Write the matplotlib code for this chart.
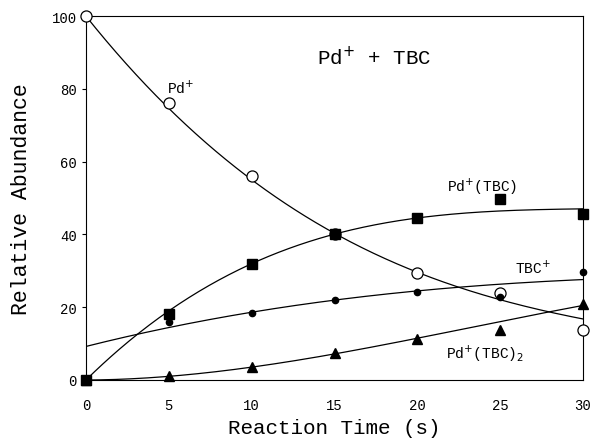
import numpy as np
import matplotlib.pyplot as plt

plt.rcParams['font.family'] = ['Liberation Mono', 'DejaVu Sans Mono']

# measured points
t = np.array([0, 5, 10, 15, 20, 25, 30])
pd_plus = np.array([100, 76, 56, 40, 29.3, 23.8, 13.7])
pd_tbc = np.array([0, 18, 32, 40, 44.5, 49.7, 45.7])
tbc_plus = np.array([0, 16, 18.3, 22, 24.3, 22.8, 29.7])
pd_tbc2 = np.array([0, 1, 3.5, 7.4, 11.4, 13.8, 20.8])

# fitted curves
pd_plus_fit = np.array([100, 74.5, 55, 40.5, 29.5, 22, 16.8])
pd_tbc_fit = np.array([0, 19, 32, 40, 44.5, 46.5, 47])
tbc_plus_fit = np.array([9.2, 14.5, 18.5, 22, 24.5, 26.3, 27.6])
pd_tbc2_fit = np.array([0, 1, 3.5, 7.2, 11.5, 16, 20.5])

fig = plt.figure(figsize=(5.93, 4.39), dpi=100)
ax = fig.add_axes([86 / 593, 1 - 381 / 439, 497 / 593, 364 / 439])

x_fit = np.linspace(0, 30, 300)
for yy in [pd_plus_fit, pd_tbc_fit, tbc_plus_fit, pd_tbc2_fit]:
    c = np.polyfit(t, yy, 3)
    ax.plot(x_fit, np.polyval(c, x_fit), color='black', lw=0.9, zorder=2)

ax.plot(t, pd_plus, 'o', ms=8, mfc='white', mec='black', mew=0.9, zorder=3, clip_on=False)
ax.plot(t, pd_tbc, 's', ms=6.5, color='black', zorder=4, clip_on=False)
ax.plot(t, tbc_plus, 'o', ms=4.5, color='black', zorder=4, clip_on=False)
ax.plot(t, pd_tbc2, '^', ms=6.5, color='black', zorder=4, clip_on=False)

ax.text(5.7, 80.3, 'Pd$^{+}$', fontsize=10.5, ha='center', va='center')
ax.text(17.4, 89, 'Pd$^{+}$ + TBC', fontsize=15, ha='center', va='center')
ax.text(23.9, 53.3, 'Pd$^{+}$(TBC)', fontsize=10.5, ha='center', va='center')
ax.text(27.0, 31.0, 'TBC$^{+}$', fontsize=10.5, ha='center', va='center')
ax.text(24.1, 7.5, 'Pd$^{+}$(TBC)$_{2}$', fontsize=10.5, ha='center', va='center')

ax.set_xlim(0, 30)
ax.set_ylim(0, 100)
ax.set_xticks([0, 5, 10, 15, 20, 25, 30])
ax.set_yticks([0, 20, 40, 60, 80, 100])
ax.tick_params(axis='y', direction='out', length=3, labelsize=10, width=0.8)
ax.tick_params(axis='x', direction='in', length=0, labelsize=10, pad=13)
for s in ax.spines.values():
    s.set_linewidth(0.8)

ax.set_xlabel('Reaction Time (s)', fontsize=15, labelpad=4)
ax.set_ylabel('Relative Abundance', fontsize=15.5, labelpad=14)

fig.savefig('out.png', dpi=100)
